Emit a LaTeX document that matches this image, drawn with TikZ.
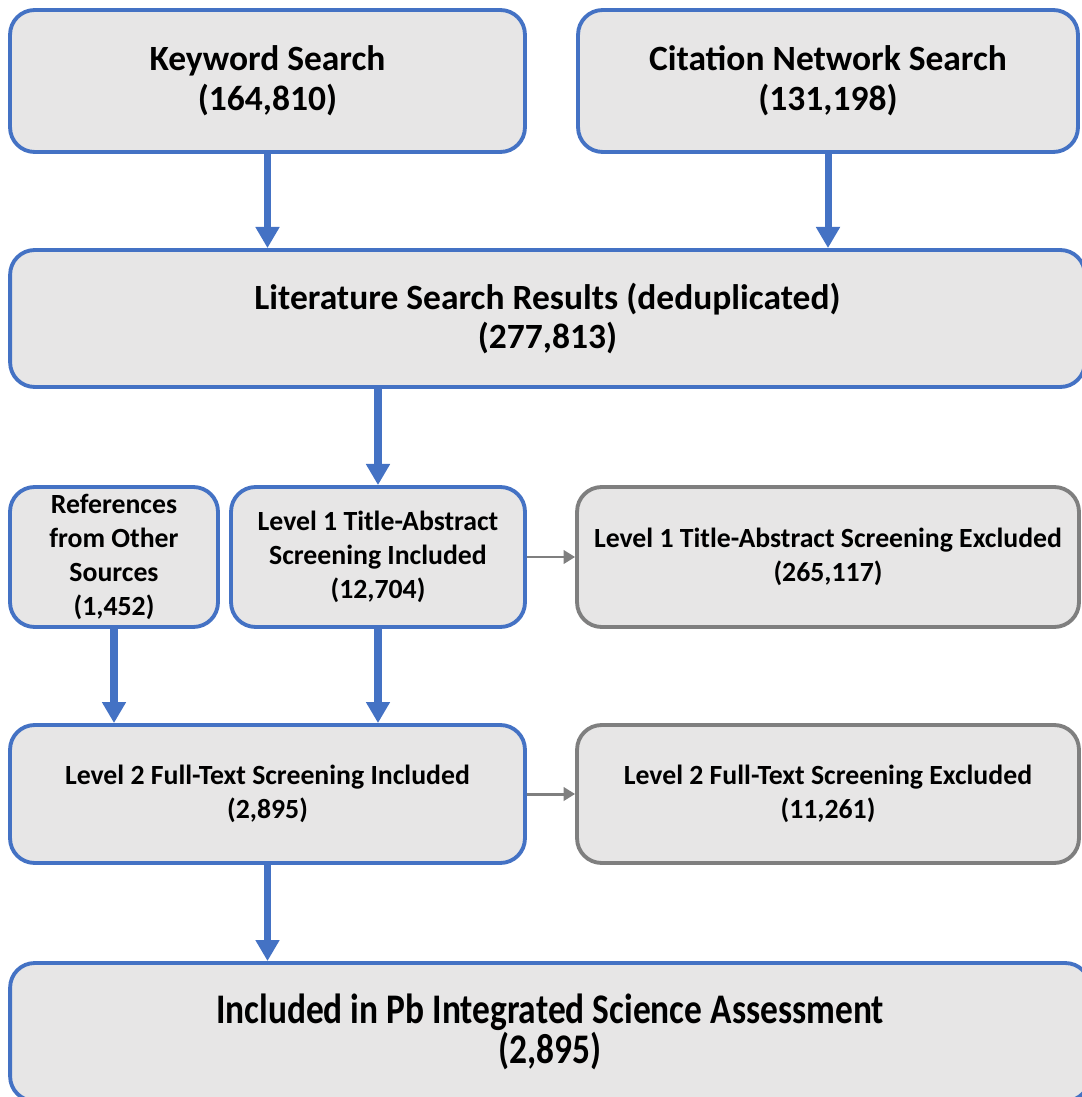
\documentclass[tikz,border=0pt]{standalone}
\usepackage{fontspec}
\setmainfont{Carlito}
\newfontfamily\tallfont[FakeStretch=0.84]{Carlito}
\usetikzlibrary{arrows.meta,positioning}
\definecolor{edgeblue}{HTML}{4472C4}
\definecolor{boxgrey}{HTML}{E7E6E6}
\definecolor{rulegrey}{HTML}{7F7F7F}
\tikzset{stagebox/.style={draw=edgeblue,fill=boxgrey,line width=2.2pt,rounded corners=14pt,align=center,inner sep=0pt},
bigtext/.style={font=\fontsize{20.2}{22.6}\selectfont\bfseries},
smalltext/.style={font=\fontsize{15.8}{19.3}\selectfont\bfseries},
dropbox/.style={stagebox,draw=rulegrey,smalltext},
mainflow/.style={draw=edgeblue,line width=4pt,-{Triangle[width=13pt,length=12pt]}},
sideflow/.style={draw=rulegrey,line width=1.7pt,-{Triangle[width=7.5pt,length=6.5pt]}}}
\begin{document}
\begin{tikzpicture}[x=0.02cm,y=-0.02cm]
\useasboundingbox (0,0) rectangle (1081,1097);
% search sources
\node[stagebox,bigtext,minimum width=10.3cm,minimum height=2.84cm] (kw) at (267.5,81) {Keyword Search\\(164,810)};
\node[stagebox,bigtext,minimum width=10.0cm,minimum height=2.84cm] (cit) at (828,81) {Citation Network Search\\(131,198)};
\node[stagebox,bigtext,minimum width=21.5cm,minimum height=2.74cm] (lit) at (547.5,318.5) {Literature Search Results (deduplicated)\\(277,813)};
% level 1
\node[stagebox,smalltext,minimum width=4.16cm,minimum height=2.8cm] (ref) at (114,557) {References\\from Other\\Sources\\(1,452)};
\node[stagebox,smalltext,minimum width=5.88cm,minimum height=2.8cm] (lone) at (378,557) {Level 1 Title-Abstract\\Screening Included\\(12,704)};
\node[dropbox,minimum width=10.04cm,minimum height=2.8cm] (loneout) at (828,557) {Level 1 Title-Abstract Screening Excluded\\(265,117)};
% level 2
\node[stagebox,smalltext,minimum width=10.3cm,minimum height=2.76cm] (ltwo) at (267.5,794) {Level 2 Full-Text Screening Included\\(2,895)};
\node[dropbox,minimum width=10.04cm,minimum height=2.76cm] (ltwoout) at (828,794) {Level 2 Full-Text Screening Excluded\\(11,261)};
\node[stagebox,minimum width=21.6cm,minimum height=2.76cm,font=\tallfont\fontsize{24}{23}\selectfont\bfseries] (isa) at (550,1032) {Included in Pb Integrated Science Assessment\\(2,895)};
% connectors
\draw[mainflow] (kw) -- (kw |- lit.north);
\draw[mainflow] (cit) -- (cit |- lit.north);
\draw[mainflow] (lone |- lit.south) -- (lone);
\draw[mainflow] (ref) -- (ref |- ltwo.north);
\draw[mainflow] (lone) -- (lone |- ltwo.north);
\draw[mainflow] (ltwo) -- (ltwo |- isa.north);
\draw[sideflow] (lone) -- (loneout);
\draw[sideflow] (ltwo) -- (ltwoout);
\end{tikzpicture}
\end{document}
